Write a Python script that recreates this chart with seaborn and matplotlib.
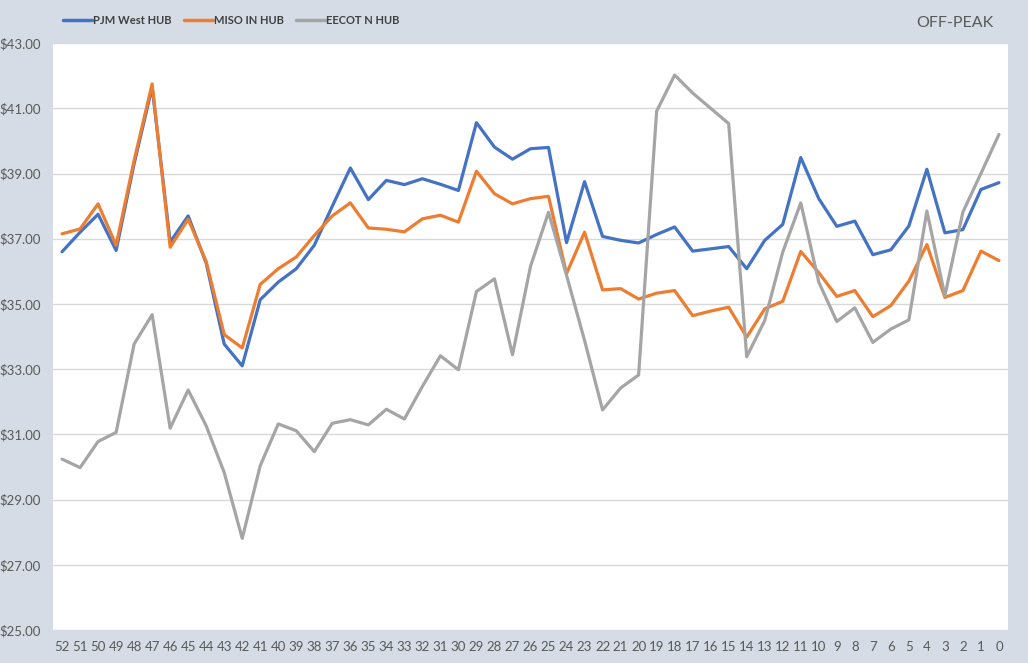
import numpy as np
import pandas as pd
import matplotlib
matplotlib.use("Agg")
import matplotlib.pyplot as plt
import seaborn as sns
from matplotlib.lines import Line2D

weeks = [str(w) for w in range(52, -1, -1)]

pjm_west = [36.60, 37.20, 37.75, 36.64, 39.30, 41.65, 36.90, 37.70, 36.25, 33.77,
            33.10, 35.13, 35.67, 36.08, 36.80, 38.00, 39.17, 38.20, 38.79, 38.66,
            38.84, 38.67, 38.48, 40.56, 39.81, 39.44, 39.76, 39.80, 36.88, 38.75,
            37.07, 36.95, 36.87, 37.13, 37.36, 36.62, 36.69, 36.76, 36.08, 36.95,
            37.44, 39.49, 38.23, 37.38, 37.54, 36.51, 36.66, 37.39, 39.13, 37.18,
            37.28, 38.51, 38.72]

miso_in = [37.15, 37.30, 38.07, 36.80, 39.40, 41.75, 36.74, 37.60, 36.30, 34.06,
           33.65, 35.60, 36.08, 36.44, 37.10, 37.70, 38.10, 37.33, 37.29, 37.21,
           37.61, 37.72, 37.51, 39.07, 38.38, 38.07, 38.23, 38.30, 35.93, 37.20,
           35.43, 35.47, 35.15, 35.33, 35.41, 34.64, 34.78, 34.90, 33.98, 34.85,
           35.08, 36.61, 35.96, 35.23, 35.41, 34.61, 34.95, 35.70, 36.82, 35.20,
           35.41, 36.62, 36.33]

eecot_n = [30.24, 29.98, 30.78, 31.06, 33.77, 34.67, 31.19, 32.36, 31.26, 29.83,
           27.81, 30.04, 31.32, 31.11, 30.47, 31.34, 31.45, 31.29, 31.77, 31.47,
           32.47, 33.41, 32.98, 35.38, 35.77, 33.44, 36.15, 37.81, 35.88, 33.88,
           31.75, 32.42, 32.82, 40.91, 42.02, 41.47, 41.00, 40.53, 33.38, 34.49,
           36.59, 38.10, 35.67, 34.46, 34.88, 33.82, 34.23, 34.51, 37.85, 35.25,
           37.82, 39.00, 40.20]

series_names = ["PJM West HUB", "MISO IN HUB", "EECOT N HUB"]
colors = ["#4472C4", "#ED7D31", "#A5A5A5"]

pos = list(range(len(weeks)))
df = pd.concat([
    pd.DataFrame({"pos": pos, "week": weeks, "value": vals, "series": name})
    for name, vals in zip(series_names, [pjm_west, miso_in, eecot_n])
], ignore_index=True)

sns.set_style("white")
plt.rcParams["font.family"] = ["Lato", "DejaVu Sans"]

bg = "#D6DCE5"
fig = plt.figure(figsize=(10.28, 6.63), dpi=100, facecolor=bg)
ax = fig.add_axes([0.0516, 0.0498, 0.9289, 0.8852])
ax.set_facecolor("white")

sns.lineplot(data=df, x="pos", y="value", hue="series", hue_order=series_names,
             palette=colors, linewidth=2.3, sort=False, ax=ax, legend=False)

ax.set_xlim(-0.5, len(weeks) - 0.5)
ax.set_ylim(25, 43)
yt = np.arange(25, 43.01, 2)
ax.set_yticks(yt)
ax.set_yticklabels([f"${v:.2f}" for v in yt], color="#595959", fontsize=9.5)
ax.set_xticks(pos)
ax.set_xticklabels(weeks, color="#595959", fontsize=9.5)
ax.tick_params(axis="both", length=0)
ax.tick_params(axis="y", pad=9)
ax.tick_params(axis="x", pad=8)
ax.grid(axis="y", color="#D9D9D9", linewidth=1.0)
ax.set_axisbelow(True)
for s in ax.spines.values():
    s.set_visible(False)
ax.set_xlabel("")
ax.set_ylabel("")

handles = [Line2D([0], [0], color=c, linewidth=2.5) for c in colors]
leg = fig.legend(handles, series_names, loc="center left", bbox_to_anchor=(0.057, 0.969),
                 ncol=3, frameon=False, handlelength=2.6,
                 handletextpad=0.1, columnspacing=1.1, borderaxespad=0,
                 prop={"size": 8, "weight": "bold"})
for t in leg.get_texts():
    t.set_color("#404040")

fig.text(0.966, 0.965, "OFF-PEAK", ha="right", va="center", fontsize=11.5, color="#595959")

fig.savefig("out.png", dpi=100, facecolor=bg)
